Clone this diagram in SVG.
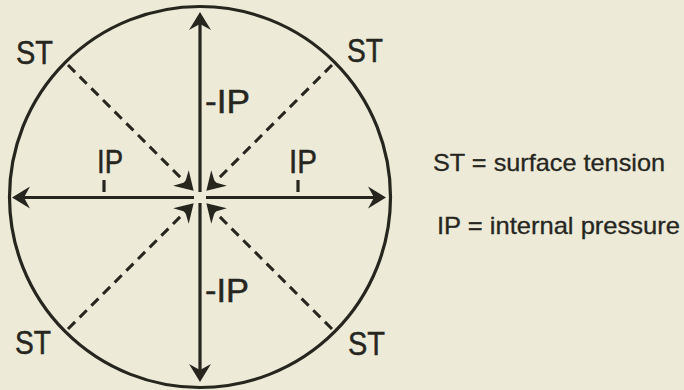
<svg xmlns="http://www.w3.org/2000/svg" width="684" height="390" viewBox="0 0 684 390">
<style>
.ln{stroke:#26261f;stroke-width:3.2;fill:none}
.ds{stroke:#26261f;stroke-width:3;fill:none;stroke-dasharray:10 6.5}
.lb{font-family:"Liberation Sans",Arial,sans-serif;font-size:33px;fill:#26261f;stroke:#26261f;stroke-width:0.5}
.lg{font-family:"Liberation Sans",Arial,sans-serif;font-size:24px;fill:#26261f;stroke:#26261f;stroke-width:0.3}
</style>
<defs>
<marker id="ah" markerUnits="userSpaceOnUse" markerWidth="40" markerHeight="40" viewBox="-20 -20 40 40" refX="0" refY="0" orient="auto" overflow="visible">
<path d="M8,0 L-10,-11 L-4,0 L-10,11 Z" fill="#26261f"/>
</marker>
</defs>
<rect width="684" height="390" fill="#edebd8"/>
<g id="circle">
<circle cx="200" cy="197" r="190.5" class="ln"/>
</g>
<g id="connectors">
<line x1="200" y1="192" x2="200" y2="20" class="ln" marker-end="url(#ah)"/>
<line x1="200" y1="203" x2="200" y2="374" class="ln" marker-end="url(#ah)"/>
<line x1="194" y1="197.5" x2="20" y2="197.5" class="ln" marker-end="url(#ah)"/>
<line x1="206" y1="197.5" x2="378" y2="197.5" class="ln" marker-end="url(#ah)"/>
<line x1="68" y1="65" x2="188" y2="185" class="ds" marker-end="url(#ah)"/>
<line x1="332" y1="65" x2="212" y2="185" class="ds" marker-end="url(#ah)"/>
<line x1="68" y1="329" x2="188" y2="209" class="ds" marker-end="url(#ah)"/>
<line x1="332" y1="329" x2="212" y2="209" class="ds" marker-end="url(#ah)"/>
<line x1="104" y1="180" x2="104" y2="192" class="ln"/>
<line x1="298" y1="180" x2="298" y2="192" class="ln"/>
</g>
<g id="labels">
<text class="lb" x="16" y="64" textLength="37" lengthAdjust="spacingAndGlyphs">ST</text>
<text class="lb" x="347" y="62" textLength="36" lengthAdjust="spacingAndGlyphs">ST</text>
<text class="lb" x="15" y="354" textLength="36" lengthAdjust="spacingAndGlyphs">ST</text>
<text class="lb" x="348" y="355" textLength="37" lengthAdjust="spacingAndGlyphs">ST</text>
<text class="lb" x="205" y="113" textLength="45" lengthAdjust="spacingAndGlyphs">-IP</text>
<text class="lb" x="205" y="302" textLength="44" lengthAdjust="spacingAndGlyphs">-IP</text>
<text class="lb" x="97" y="173" textLength="26" lengthAdjust="spacingAndGlyphs">IP</text>
<text class="lb" x="289" y="173" textLength="28" lengthAdjust="spacingAndGlyphs">IP</text>
</g>
<g id="legend">
<text class="lg" x="433" y="171" textLength="232" lengthAdjust="spacingAndGlyphs">ST = surface tension</text>
<text class="lg" x="437" y="234" textLength="243" lengthAdjust="spacingAndGlyphs">IP = internal pressure</text>
</g>
</svg>
